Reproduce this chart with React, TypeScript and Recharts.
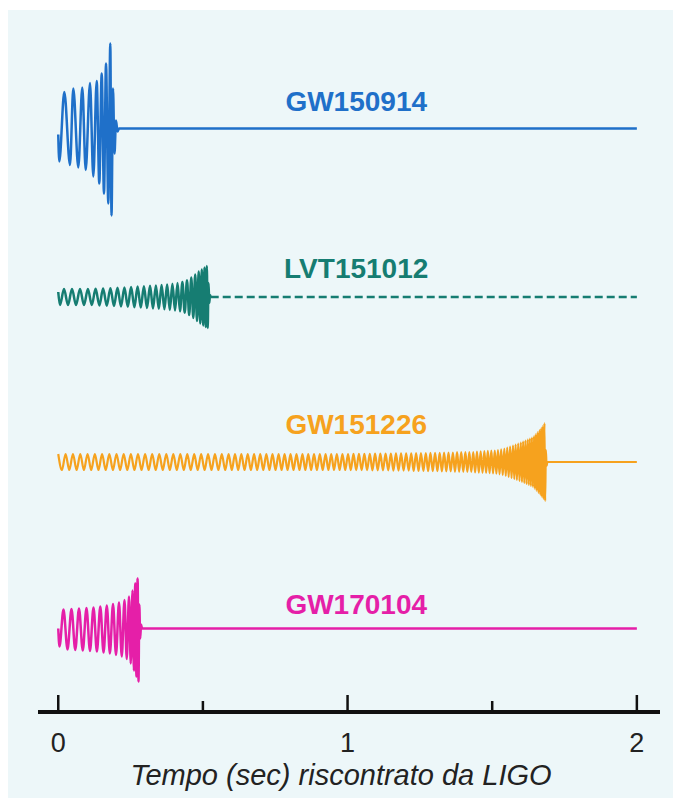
import { LineChart, Line, XAxis, YAxis, ReferenceDot } from "recharts"

// each waveform: [time in ms, relative strain] at the oscillation extrema
const gw150914: [number, number][] = [
  [0, -6], [3.6, -33], [20.9, 36.5], [40.6, -36.5], [52.0, 40], [69.3, -39], [83.1, 41], [94.9, -41.5],
  [109.7, 45.5], [121.2, -48], [132.9, 47.5], [141.9, -55], [150.2, 55], [158.1, -65], [165.1, 65], [173.0, -75],
  [179.9, 85], [184.1, -87], [189.3, 40], [194.4, -25], [199.6, 8], [204.8, -3], [210.0, 0], [2000, 0],
]

const lvt151012: [number, number][] = [
  [0, 5], [6.0, -8], [19.9, 8], [33.7, -8], [47.5, 8], [61.4, -8], [75.2, 8], [89.0, -8],
  [102.5, 8], [116.0, -8], [129.1, 8.2], [142.2, -8.4], [155.0, 8.5], [167.8, -8.7], [180.3, 8.8], [192.7, -9],
  [204.8, 9.2], [216.9, -9.4], [228.7, 9.6], [240.4, -9.8], [251.8, 10], [263.2, -10.2], [274.3, 10.4], [285.3, -10.6],
  [296.1, 10.8], [306.8, -11], [317.2, 11.2], [327.5, -11.4], [337.5, 11.6], [347.6, -11.8], [357.2, 12], [366.9, -12.3],
  [376.3, 12.6], [385.6, -12.9], [394.6, 13.2], [403.6, -13.5], [412.2, 13.9], [420.8, -14.3], [429.1, 15], [437.1, -15.8],
  [445.0, 16.8], [452.6, -18], [459.9, 19.5], [466.8, -21], [473.4, 22.5], [479.6, -24], [485.5, 25.5], [491.0, -26.5],
  [496.2, 27.5], [501.0, -28.5], [505.5, 29.5], [509.7, -30], [513.5, 31], [516.6, -31], [519.4, 14], [522.1, -6],
  [524.5, 2], [527.0, 0],
]
const lvt151012Tail: [number, number][] = [[527.0, 0], [2000, 0]]

const gw151226: [number, number][] = [
  [0, 8], [12.7, -8], [25.4, 8], [38.1, -8], [50.8, 8], [63.5, -8], [76.1, 8], [88.7, -8],
  [101.3, 8], [113.9, -8], [126.5, 8], [139.0, -8], [151.5, 8], [164.0, -8], [176.5, 8], [189.0, -8],
  [201.4, 8], [213.8, -8], [226.2, 8], [238.6, -8], [251.0, 8], [263.3, -8], [275.6, 8], [287.9, -8],
  [300.2, 8], [312.5, -8], [324.7, 8], [336.9, -8], [349.1, 8], [361.3, -8], [373.5, 8], [385.6, -8],
  [397.7, 8], [409.8, -8], [421.9, 8], [434.0, -8], [446.0, 8], [458.0, -8], [470.0, 8], [482.0, -8],
  [494.0, 8], [505.9, -8], [517.8, 8], [529.7, -8], [541.6, 8], [553.5, -8], [565.3, 8], [577.1, -8],
  [588.9, 8],
  [599.9, -8], [610.9, 8], [621.9, -8], [632.9, 8], [643.9, -8], [654.9, 8], [665.9, -8], [676.9, 8],
  [687.5, -8], [698.1, 8], [708.7, -8], [719.3, 8], [729.9, -8], [740.5, 8], [751.1, -8], [761.7, 8],
  [772.0, -8], [782.3, 8], [792.6, -8], [802.9, 8], [813.2, -8], [823.5, 8], [833.8, -8], [844.1, 8],
  [854.1, -8], [864.1, 8], [874.1, -8], [884.1, 8], [894.1, -8], [904.1, 8], [914.1, -8], [924.1, 8],
  [933.8, -8], [943.5, 8], [953.2, -8], [962.9, 8], [972.6, -8], [982.3, 8], [992.0, -8], [1001.7, 8],
  [1011.1, -8.2], [1020.5, 8.2], [1029.9, -8.2], [1039.3, 8.2], [1048.7, -8.2], [1058.1, 8.2], [1067.5, -8.2], [1076.9, 8.2],
  [1086.0, -8.4], [1095.1, 8.4], [1104.2, -8.4], [1113.3, 8.4], [1122.4, -8.4], [1131.5, 8.4], [1140.6, -8.4], [1149.7, 8.4],
  [1158.5, -8.6], [1167.3, 8.6], [1176.1, -8.6], [1184.9, 8.6], [1193.7, -8.6], [1202.5, 8.6], [1211.3, -8.6], [1220.1, 8.6],
  [1228.5, -9], [1236.9, 9], [1245.3, -9], [1253.7, 9], [1262.1, -9], [1270.5, 9],
  [1278.5, -9.2], [1286.5, 9.2], [1294.5, -9.2], [1302.5, 9.2], [1310.5, -9.2], [1318.5, 9.2],
  [1326.1, -9.5], [1333.7, 9.5], [1341.3, -9.5], [1348.9, 9.5], [1356.5, -9.5], [1364.1, 9.5],
  [1371.3, -9.8], [1378.5, 9.8], [1385.7, -9.8], [1392.9, 9.8], [1400.1, -9.8], [1407.3, 9.8],
  [1414.1, -10], [1420.9, 10], [1427.7, -10], [1434.5, 10],
  [1440.9, -10.5], [1447.3, 10.5], [1453.7, -10.6], [1460.1, 10.7], [1466.5, -10.8], [1472.9, 10.9],
  [1478.9, -11], [1484.9, 11.1], [1490.9, -11.2], [1496.9, 11.3], [1502.9, -11.4], [1508.9, 11.5],
  [1514.4, -11.7], [1519.9, 12], [1525.4, -12.3], [1530.9, 12.7], [1536.4, -13.1], [1541.9, 13.5],
  [1546.9, -14], [1551.9, 14.5], [1556.9, -15], [1561.9, 15.5], [1566.9, -16], [1571.9, 16.5],
  [1576.4, -17], [1580.9, 17.5], [1585.4, -18], [1589.9, 18.5], [1594.4, -19], [1598.9, 19.5],
  [1602.9, -20], [1606.9, 20.5], [1610.9, -21], [1614.9, 21.5], [1618.9, -22], [1622.9, 22.5],
  [1626.5, -23], [1630.1, 23.5], [1633.7, -24], [1637.3, 24.5], [1640.9, -25], [1644.5, 26],
  [1647.7, -27], [1650.9, 28], [1654.1, -29], [1657.3, 30], [1660.5, -31], [1663.7, 32],
  [1666.5, -33], [1669.3, 34], [1672.1, -35], [1674.9, 36], [1677.7, -37], [1680.5, 39],
  [1683.0, -39], [1685.5, 12], [1688.0, -4], [1690.5, 0], [2000, 0],
]

const gw170104: [number, number][] = [
  [0, 0], [4.3, -18], [18.1, 19], [32.0, -21], [45.8, 19.5], [58.8, -21.5], [71.7, 20], [84.7, -22],
  [97.6, 20.5], [109.7, -22.5], [121.8, 21], [133.6, -23], [145.3, 22], [156.6, -24], [167.8, 23], [178.5, -25],
  [189.3, 24.5], [199.6, -26.5], [210.0, 26], [219.5, -28], [229.0, 28.5], [236.8, -30.5], [244.6, 32], [250.6, -35],
  [256.7, 38], [261.5, -42], [266.3, 45], [270.3, -48], [274.3, 50], [277.4, -53], [280.2, 24], [283.3, -10],
  [286.1, 4], [289.5, 0], [2000, 0],
]

const eventNames = ["GW150914", "LVT151012", "GW151226", "GW170104"]
const eventColors = ["#1f70c9", "#167d72", "#f6a21e", "#e51fa8"]
const timeTicks = [0, 0.5, 1, 1.5, 2]
const axisTitle = "Tempo (sec) riscontrato da LIGO"

const toRows = (pts: [number, number][]) => pts.map(([ms, h]) => ({ t: ms / 1000, h }))

// layout: each trace sits on its own hidden y axis (1 unit ≈ 1px)
const PLOT_H = 702
const baselines = [118.5, 287, 452, 618.5]
const labelLift = [27.5, 29, 38, 24.5]
const FONT = "'Liberation Sans', Arial, Helvetica, sans-serif"

function TimeTick(props: any) {
  const { x, y, payload } = props
  const major = Number.isInteger(payload.value)
  return (
    <g>
      <line x1={x} x2={x} y1={y} y2={y - (major ? 17 : 11)} stroke="#111" strokeWidth={2.5} />
      {major && (
        <text x={x} y={y + 40} textAnchor="middle" fontSize={27} fontFamily={FONT} fill="#222">
          {payload.value}
        </text>
      )}
    </g>
  )
}

export default function App() {
  const series = [gw150914, lvt151012, gw151226, gw170104]

  return (
    <div style={{ paddingTop: 2 }}>
      <div style={{ width: 665, height: 788, background: "#edf7f9" }}>
        <LineChart width={665} height={788} margin={{ top: 0, right: 13, bottom: 0, left: 30 }}>
          <XAxis
            type="number"
            dataKey="t"
            domain={[-0.07, 2.08]}
            allowDataOverflow
            ticks={timeTicks}
            interval={0}
            height={788 - PLOT_H}
            tickLine={false}
            tickSize={0}
            tickMargin={0}
            tick={(p: any) => <TimeTick {...p} />}
            axisLine={{ stroke: "#111", strokeWidth: 4 }}
            label={{
              value: axisTitle,
              position: "insideBottom",
              offset: 13,
              dx: -8,
              fontSize: 29,
              fontStyle: "italic",
              fontFamily: FONT,
              fill: "#222",
            }}
          />
          {baselines.map((b, i) => (
            <YAxis key={i} yAxisId={i} hide domain={[b - PLOT_H, b]} allowDataOverflow />
          ))}
          {series.map((pts, i) => (
            <Line
              key={eventNames[i]}
              yAxisId={i}
              data={toRows(pts)}
              dataKey="h"
              type="monotone"
              stroke={eventColors[i]}
              strokeWidth={i === 2 ? 2.2 : 2.5}
              dot={false}
              activeDot={false}
              isAnimationActive={false}
            />
          ))}
          <Line
            yAxisId={1}
            data={toRows(lvt151012Tail)}
            dataKey="h"
            type="linear"
            stroke={eventColors[1]}
            strokeWidth={2.5}
            strokeDasharray="8 4"
            dot={false}
            activeDot={false}
            isAnimationActive={false}
          />
          {eventNames.map((name, i) => (
            <ReferenceDot
              key={name}
              yAxisId={i}
              x={1.03}
              y={labelLift[i]}
              r={0}
              fill="none"
              stroke="none"
              ifOverflow="visible"
              label={{
                value: name,
                position: "center",
                fill: eventColors[i],
                fontSize: 28,
                fontWeight: 700,
                fontFamily: FONT,
              }}
            />
          ))}
        </LineChart>
      </div>
    </div>
  )
}
